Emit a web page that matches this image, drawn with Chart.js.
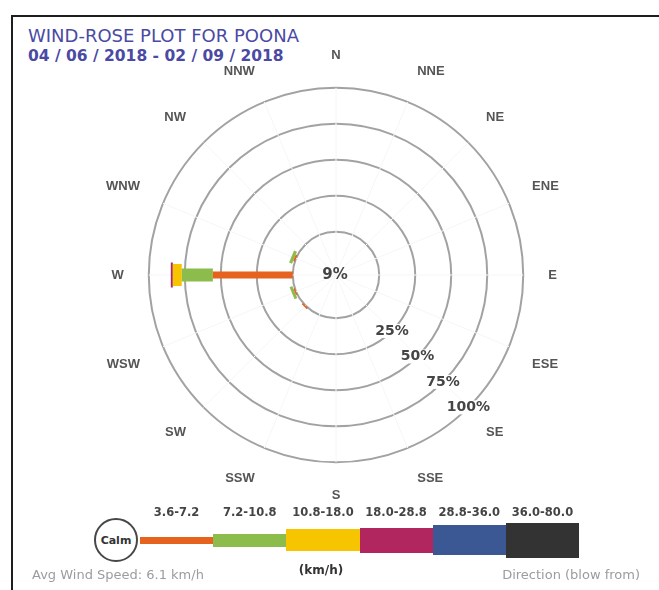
<!DOCTYPE html>
<html lang="en">
<head>
<meta charset="utf-8">
<title>Wind-rose plot for Poona</title>
<script src="https://cdn.jsdelivr.net/npm/chart.js@4.4.1/dist/chart.umd.min.js"></script>
<style>
  html, body { margin: 0; padding: 0; background: #fff; }
  body { position: relative; width: 659px; height: 590px; overflow: hidden; font-family: "DejaVu Sans", Verdana, sans-serif; }
  #frame { position: absolute; left: 11px; top: 15px; right: -4px; bottom: -4px; border-top: 2px solid #1e1e1e; border-left: 2px solid #1e1e1e; }
  .title { position: absolute; left: 28px; color: #4a4aa4; white-space: nowrap; line-height: 1; }
  #title1 { top: 27px; font-size: 18px; }
  #title2 { top: 49px; font-size: 15.5px; font-weight: bold; }
  #chartBox { position: absolute; left: 103px; top: 46px; width: 460px; height: 460px; }
  #calm { position: absolute; left: 94px; top: 518px; width: 40px; height: 40px; border: 2px solid #474747; border-radius: 50%;
          font: bold 11px "DejaVu Sans", sans-serif; color: #333; display: flex; align-items: center; justify-content: center; background: #fff; }
  #legend { position: absolute; left: 140px; top: 500px; width: 439px; height: 60px; display: flex; }
  #legend .item { flex: 1; position: relative; }
  #legend .lbl { position: absolute; left: -10px; right: -10px; top: 5px; text-align: center; font: bold 11.5px "DejaVu Sans", sans-serif; color: #444; white-space: nowrap; }
  #legend .bar { position: absolute; left: 0; right: 0; }
  #unit { position: absolute; left: 271px; width: 100px; top: 563px; text-align: center; font: bold 12px "DejaVu Sans", sans-serif; color: #333; }
  .foot { position: absolute; top: 567px; font-size: 13px; color: #9c9c9c; white-space: nowrap; }
  #avg { left: 32px; }
  #dir { right: 19px; }
</style>
</head>
<body>
<div id="frame"></div>
<div class="title" id="title1">WIND-ROSE PLOT FOR POONA</div>
<div class="title" id="title2">04 / 06 / 2018 - 02 / 09 / 2018</div>
<div id="chartBox"><canvas id="windRose"></canvas></div>
<div id="calm">Calm</div>
<div id="legend"></div>
<div id="unit">(km/h)</div>
<div class="foot" id="avg">Avg Wind Speed: 6.1 km/h</div>
<div class="foot" id="dir">Direction (blow from)</div>

<script>
// Smjerovi (odakle puse vjetar), u smjeru kazaljke od sjevera
const directions = ['N', 'NNE', 'NE', 'ENE', 'E', 'ESE', 'SE', 'SSE', 'S', 'SSW', 'SW', 'WSW', 'W', 'WNW', 'NW', 'NNW'];
const speedClasses = ['3.6-7.2', '7.2-10.8', '10.8-18.0', '18.0-28.8', '28.8-36.0', '36.0-80.0'];
const speedColors = ['#e6621f', '#8cbd4c', '#f7c400', '#b2265f', '#3b5894', '#333333'];
const barWidths = [7, 13, 22, 25, 30, 35];

const calmPct = 9;
const ringTicks = [25, 50, 75, 100];

// % vremena po smjeru, za svaku klasu brzine (N ... NNW)
const class1 = [0, 0, 0, 0, 0, 0, 0, 0, 0, 0, 1.1, 1.0, 55.5, 1.2, 0, 0];
const class2 = [0, 0, 0, 0, 0, 0, 0, 0, 0, 0, 0, 2.0, 21.6, 2.2, 0, 0];
const class3 = [0, 0, 0, 0, 0, 0, 0, 0, 0, 0, 0, 0, 6.2, 0, 0, 0];
const class4 = [0, 0, 0, 0, 0, 0, 0, 0, 0, 0, 0, 0, 1.4, 0, 0, 0];
const class5 = [0, 0, 0, 0, 0, 0, 0, 0, 0, 0, 0, 0, 0, 0, 0, 0];
const class6 = [0, 0, 0, 0, 0, 0, 0, 0, 0, 0, 0, 0, 0, 0, 0, 0];
const speedData = [class1, class2, class3, class4, class5, class6];

// radijalna skala: 0% lezi na krugu "calm"
const rMin = -30;
const rMax = 100;

// Legenda ispod grafikona
const legend = document.getElementById('legend');
speedClasses.forEach((name, k) => {
    const item = document.createElement('div');
    item.className = 'item';
    const lbl = document.createElement('div');
    lbl.className = 'lbl';
    lbl.textContent = name;
    const bar = document.createElement('div');
    bar.className = 'bar';
    bar.style.background = speedColors[k];
    bar.style.height = barWidths[k] + 'px';
    bar.style.top = (40 - barWidths[k] / 2) + 'px';
    item.appendChild(lbl);
    item.appendChild(bar);
    legend.appendChild(item);
});

// Svaka klasa je jedna linija sa prekidima: od kumulativnog pocetka do kraja po smjeru
const cumulative = directions.map(() => 0);
const datasets = speedData.map((values, k) => {
    const points = [];
    values.forEach((v, i) => {
        if (v <= 0) return;
        const a = i * 2 * Math.PI / directions.length;
        const from = cumulative[i] - rMin;
        const to = cumulative[i] + v - rMin;
        points.push({ x: from * Math.sin(a), y: from * Math.cos(a) });
        points.push({ x: to * Math.sin(a), y: to * Math.cos(a) });
        points.push({ x: 0, y: null });
        cumulative[i] += v;
    });
    return {
        label: speedClasses[k],
        data: points,
        showLine: true,
        spanGaps: false,
        borderColor: speedColors[k],
        backgroundColor: speedColors[k],
        borderWidth: barWidths[k],
        borderCapStyle: 'butt',
        pointRadius: 0,
        fill: false
    };
});

// x/y skale se poravnaju sa radijalnom skalom (isti centar i mjerilo)
const alignPolar = {
    id: 'alignPolar',
    afterLayout(chart) {
        const r = chart.scales.r, xs = chart.scales.x, ys = chart.scales.y;
        const k = (r.max - r.min) / r.drawingArea;
        xs.min = (xs.left - r.xCenter) * k;
        xs.max = (xs.right - r.xCenter) * k;
        ys.min = (r.yCenter - ys.bottom) * k;
        ys.max = (r.yCenter - ys.top) * k;
        xs.configure();
        ys.configure();
    }
};

// Oznake prstenova (na SE pravcu) i procenat tisine u centru
const ringLabels = {
    id: 'ringLabels',
    afterDraw(chart) {
        const r = chart.scales.r;
        const ctx = chart.ctx;
        const se = directions.indexOf('SE');
        ctx.save();
        ctx.textAlign = 'center';
        ctx.textBaseline = 'middle';
        ctx.font = 'bold 14px "DejaVu Sans"';
        ringTicks.forEach(v => {
            const p = r.getPointPosition(se, r.getDistanceFromCenterForValue(v));
            const label = v + '%';
            const w = ctx.measureText(label).width;
            ctx.fillStyle = '#fff';
            ctx.fillRect(p.x - w / 2 - 1, p.y - 7, w + 2, 14);
            ctx.fillStyle = '#454545';
            ctx.fillText(label, p.x, p.y);
        });
        ctx.font = 'bold 15px "DejaVu Sans"';
        ctx.fillText(calmPct + '%', r.xCenter - 1, r.yCenter);
        ctx.restore();
    }
};

new Chart(document.getElementById('windRose'), {
    type: 'scatter',
    data: { datasets: datasets },
    options: {
        responsive: true,
        maintainAspectRatio: false,
        animation: false,
        events: [],
        layout: { padding: 0 },
        plugins: {
            legend: { display: false },
            tooltip: { enabled: false }
        },
        scales: {
            x: { type: 'linear', display: false },
            y: { type: 'linear', display: false },
            r: {
                type: 'radialLinear',
                labels: directions,
                min: rMin,
                max: rMax,
                startAngle: 0,
                afterBuildTicks: axis => {
                    axis.ticks = [0].concat(ringTicks).map(v => ({ value: v }));
                },
                ticks: { display: false },
                grid: { circular: true, color: '#a2a2a2', lineWidth: 2 },
                angleLines: { display: true, color: '#f6f6f6', lineWidth: 1 },
                pointLabels: {
                    display: true,
                    padding: 25,
                    color: '#555',
                    font: { family: 'Liberation Sans', size: 13, weight: 'bold' }
                }
            }
        }
    },
    plugins: [alignPolar, ringLabels]
});
</script>
</body>
</html>
